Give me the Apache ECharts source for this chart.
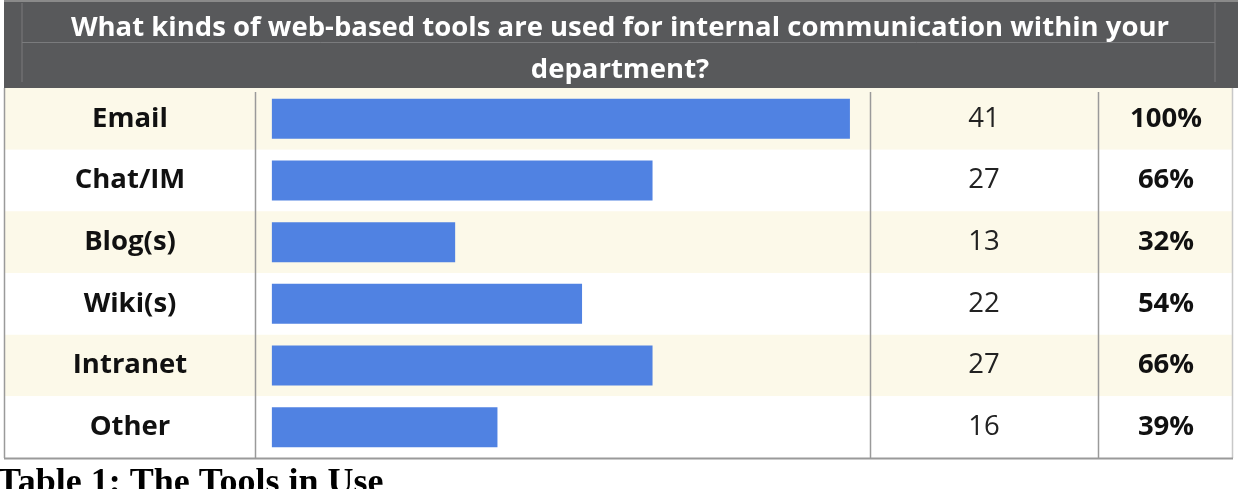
<!DOCTYPE html>
<html>
<head>
<meta charset="utf-8">
<style>
  html, body { margin: 0; padding: 0; background: #fff; }
  #chart { width: 1240px; height: 489px; }
</style>
<script src="https://cdn.jsdelivr.net/npm/echarts@6/dist/echarts.min.js"></script>
</head>
<body>
<div id="chart"></div>
<script>
let tools = ["Email", "Chat/IM", "Blog(s)", "Wiki(s)", "Intranet", "Other"];
let counts = [41, 27, 13, 22, 27, 16];
let percents = ["100%", "66%", "32%", "54%", "66%", "39%"];
let question = "What kinds of web-based tools are used for internal communication within your\ndepartment?";
let caption = "Table 1: The Tools in Use";

let myChart = echarts.init(document.getElementById("chart"));
let lineColor = "#9a9a9a";
let cellFont = "'Open Sans', Lato, sans-serif";

// 每一欄的文字用一條 inside 的 yAxis 來畫
const columnAxis = (margin, formatter, weight, color) => ({
  type: "category",
  data: tools,
  inverse: true,
  position: "left",
  axisLine: { show: false },
  axisTick: { show: false },
  splitLine: { show: false },
  axisLabel: {
    inside: true,
    margin: margin,
    align: "center",
    fontFamily: cellFont,
    fontSize: 27.5,
    fontWeight: weight,
    color: color,
    formatter: formatter,
  },
});

let option = {
  backgroundColor: "#ffffff",
  animation: false,
  title: [
    {
      text: question,
      left: 620,
      top: 7,
      padding: 0,
      textAlign: "center",
      textStyle: {
        color: "#ffffff",
        fontFamily: cellFont,
        fontSize: 27.5,
        fontWeight: "bold",
        lineHeight: 42,
      },
      z: 10,
    },
    {
      text: caption,
      left: -3,
      top: 466,
      padding: 0,
      textStyle: {
        color: "#000000",
        fontFamily: "'Liberation Serif', 'Times New Roman', serif",
        fontSize: 36,
        fontWeight: "bold",
      },
    },
  ],
  grid: { left: 4, right: 8, top: 88, bottom: 31 },
  xAxis: {
    type: "value",
    min: -19,
    max: 68.1,
    show: false,
  },
  yAxis: [
    {
      type: "category",
      data: tools,
      inverse: true,
      axisLine: { show: false },
      axisTick: { show: false },
      splitArea: {
        show: true,
        areaStyle: { color: ["#fcf9e9", "#ffffff"] },
      },
      axisLabel: {
        inside: true,
        margin: 126,
        align: "center",
        fontFamily: cellFont,
        fontSize: 27.5,
        fontWeight: "bold",
        color: "#111111",
      },
    },
    columnAxis(980, (v, i) => String(counts[i]), "normal", "#222222"),
    columnAxis(1162, (v, i) => percents[i], "bold", "#111111"),
  ],
  graphic: [
    // 表頭
    { type: "rect", shape: { x: 4, y: 0, width: 1234, height: 88 }, style: { fill: "#58595b" }, z: 1 },
    { type: "line", shape: { x1: 4, y1: 1, x2: 1238, y2: 1 }, style: { stroke: "#8a8a8a", lineWidth: 2 }, z: 2 },
    { type: "line", shape: { x1: 22, y1: 3, x2: 22, y2: 82 }, style: { stroke: "#7a7b7d", lineWidth: 1 }, z: 2 },
    { type: "line", shape: { x1: 22, y1: 42.5, x2: 1215, y2: 42.5 }, style: { stroke: "#7a7b7d", lineWidth: 1 }, z: 2 },
    { type: "line", shape: { x1: 1215, y1: 3, x2: 1215, y2: 82 }, style: { stroke: "#7a7b7d", lineWidth: 1 }, z: 2 },
    // 表格框線
    { type: "line", shape: { x1: 4.5, y1: 88, x2: 4.5, y2: 458 }, style: { stroke: lineColor, lineWidth: 1.5 }, z: 5 },
    { type: "line", shape: { x1: 255.5, y1: 92, x2: 255.5, y2: 458 }, style: { stroke: lineColor, lineWidth: 1.5 }, z: 5 },
    { type: "line", shape: { x1: 870.5, y1: 92, x2: 870.5, y2: 458 }, style: { stroke: lineColor, lineWidth: 1.5 }, z: 5 },
    { type: "line", shape: { x1: 1098.5, y1: 92, x2: 1098.5, y2: 458 }, style: { stroke: lineColor, lineWidth: 1.5 }, z: 5 },
    { type: "line", shape: { x1: 1232.5, y1: 88, x2: 1232.5, y2: 458 }, style: { stroke: "#c8c8c8", lineWidth: 1.5 }, z: 5 },
    { type: "line", shape: { x1: 4, y1: 458.5, x2: 1233, y2: 458.5 }, style: { stroke: lineColor, lineWidth: 2 }, z: 5 },
  ],
  series: [
    {
      type: "bar",
      data: counts,
      barWidth: 40,
      itemStyle: { color: "#5082e2" },
      z: 3,
    },
  ],
};

option && myChart.setOption(option);
</script>
</body>
</html>
